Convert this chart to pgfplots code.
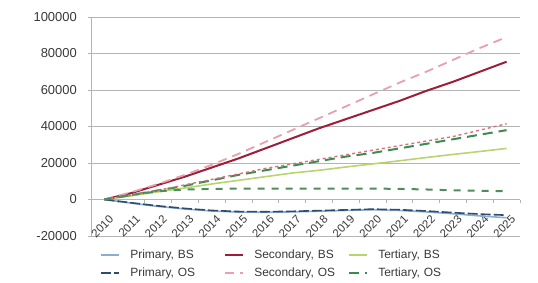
\documentclass[border=0pt]{standalone}
\usepackage{pgfplots}
\usepackage{pgfplotstable}
\pgfplotsset{compat=1.18}
\usepackage{fontspec}
\setmainfont{Liberation Sans}
\definecolor{gridc}{HTML}{B4B4B4}
\definecolor{cPBS}{HTML}{8AAED0}
\definecolor{cPOS}{HTML}{2E4D6E}
\definecolor{cSBS}{HTML}{9C1E38}
\definecolor{cSOS}{HTML}{E8A0AE}
\definecolor{cSOSb}{HTML}{D9707F}
\definecolor{cTBS}{HTML}{B8D46E}
\definecolor{cTOS}{HTML}{3C8C50}
\definecolor{cTOSb}{HTML}{4E8E5C}
\definecolor{txt}{HTML}{383838}
\pgfplotstableread{
year pbs pos sbs sos sos2 tbs tos tos2
2010 0 0 0 0 0 0 0 0
2011 -2000 -1800 3500 4000 2500 2000 2500 2500
2012 -3800 -3500 8000 8500 5000 4200 5000 4500
2013 -5200 -4900 12500 13500 8000 6300 7500 5500
2014 -6300 -6000 17500 19000 11000 8500 10500 5800
2015 -6900 -6600 22500 25000 14000 10500 13500 6000
2016 -7000 -6700 28000 31500 17000 12500 16000 6000
2017 -6800 -6500 33500 38000 19500 14500 18500 6000
2018 -6400 -6100 39000 44500 22000 16000 21000 6000
2019 -6000 -5700 44000 51000 24500 17800 23500 6000
2020 -5600 -5300 49000 57500 27000 19500 25500 6000
2021 -6000 -5600 54000 64000 29500 21200 28000 5800
2022 -6800 -6300 59500 70000 32000 23000 30500 5500
2023 -7800 -7200 64500 76500 34500 24700 33000 5000
2024 -9000 -8000 70000 83000 38000 26300 35500 4800
2025 -10000 -8600 75500 89000 41500 28000 38000 4500
}\data
\begin{document}
\begin{tikzpicture}
\begin{axis}[
  scale only axis, width=429bp, height=219bp,
  xmin=2009.5, xmax=2025.5, ymin=-20000, ymax=100000,
  scaled y ticks=false,
  axis x line=middle, axis y line=left,
  axis line style={-, draw=gridc, line width=0.8bp},
  ymajorgrids, grid style={gridc, line width=0.6bp},
  ytick={-20000,0,20000,40000,60000,80000,100000},
  yticklabels={-20000,0,20000,40000,60000,80000,100000},
  xtick={2010,...,2025},
  xticklabels={2010,2011,2012,2013,2014,2015,2016,2017,2018,2019,2020,2021,2022,2023,2024,2025},
  minor xtick={2009.5,2010.5,...,2025.5},
  major x tick style={draw=none},
  minor x tick style={gridc, line width=0.6bp},
  y tick style={gridc, line width=0.6bp},
  tick align=outside, major tick length=3bp, minor tick length=3bp,
  yticklabel style={font=\fontsize{13}{15}\selectfont, text=txt, inner sep=1bp, xshift=-10bp},
  xticklabel style={font=\fontsize{11.5}{13}\selectfont, text=txt, xshift=4bp, yshift=-12bp, rotate=45, anchor=north east, inner sep=0bp},
  clip=false,
  legend columns=3,
  legend cell align=left,
  legend style={at={(axis description cs:0.021,-0.05)}, anchor=north west, draw=none, fill=none,
     inner sep=0pt, row sep=3bp,
     font=\fontsize{12}{14}\selectfont, text=txt,
     nodes={text width=85bp, inner sep=2.5bp},
     /tikz/every odd column/.append style={column sep=8bp},
     /tikz/every even column/.append style={column sep=6bp}},
  legend image code/.code={\draw[#1] (0bp,0bp) -- (18bp,0bp);},
]
\addplot[cPBS, line width=1.6bp] table[x=year,y=pbs]{\data};
\addlegendentry{Primary, BS}
\addplot[cSBS, line width=2bp] table[x=year,y=sbs]{\data};
\addlegendentry{Secondary, BS}
\addplot[cTBS, line width=1.6bp] table[x=year,y=tbs]{\data};
\addlegendentry{Tertiary, BS}
\addplot[cPOS, line width=1.6bp, dash pattern=on 10bp off 3bp] table[x=year,y=pos]{\data};
\addlegendentry{Primary, OS}
\addplot[cSOS, line width=1.8bp, dash pattern=on 9bp off 6bp] table[x=year,y=sos]{\data};
\addlegendentry{Secondary, OS}
\addplot[cTOS, line width=2bp, dash pattern=on 10bp off 6bp] table[x=year,y=tos]{\data};
\addlegendentry{Tertiary, OS}
\addplot[cSOSb, line width=1.4bp, dash pattern=on 3bp off 3bp, forget plot] table[x=year,y=sos2]{\data};
\addplot[cTOSb, line width=2bp, dash pattern=on 7bp off 7bp, forget plot] table[x=year,y=tos2]{\data};
\end{axis}
\path[use as bounding box] (-91bp,-47bp) rectangle (447bp,236bp);
\end{tikzpicture}
\end{document}
